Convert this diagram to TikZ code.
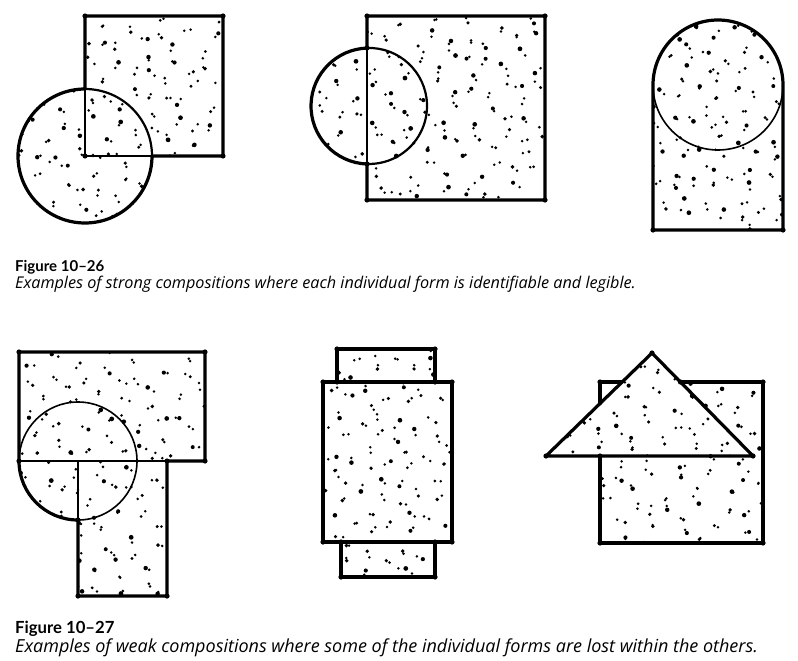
\documentclass[tikz,border=0pt]{standalone}
\usepackage{fontspec}
\setmainfont{Open Sans}
\newfontfamily\headfont{Lato}
\usetikzlibrary{positioning}

% stipple dots spread over a box (clip first); #6 shifts the pattern
\newcommand{\speckle}[6]{%
  \foreach \k in {1,...,#1}{%
    \pgfmathsetmacro{\px}{#2+mod(#6+\k*0.7548776662,1)*(#4-#2)}%
    \pgfmathsetmacro{\py}{#3+mod(#6+\k*0.5698402910,1)*(#5-#3)}%
    \pgfmathsetmacro{\qx}{\px+6*rand}%
    \pgfmathsetmacro{\qy}{\py+6*rand}%
    \pgfmathsetmacro{\pr}{1.4+1.0*rnd}%
    \fill (\px+3*rand,\py+3*rand) circle[radius=\pr pt];
    \fill (\qx,\qy) circle[radius=1.4pt];
  }}

\begin{document}
\begin{tikzpicture}[x=1pt,y=-1pt,
    outline/.style={line width=3.2pt, line join=round, line cap=round},
    inner/.style={line width=1.6pt, line cap=round},
    corner/.style={radius=2.6pt},
    figcap/.style={anchor=base west, inner sep=0pt, font=\headfont\fontsize{15}{18}\selectfont\bfseries},
    figtext/.style={anchor=base west, inner sep=0pt, font=\fontsize{16.2}{19}\selectfont\itshape}]
  \useasboundingbox (0,0) rectangle (798,661);
  \pgfmathsetseed{2610}

  % ---- 10-26 left: square and circle at its corner
  \begin{scope}
    \clip (85,89) -- (85,16) -- (223,16) -- (223,156) -- (152,156) arc[start angle=0, end angle=-270, radius=67pt] -- cycle;
    \speckle{105}{18}{16}{223}{223}{0.13}
  \end{scope}
  \draw[outline] (85,89) -- (85,16) -- (223,16) -- (223,156) -- (152,156) arc[start angle=0, end angle=-270, radius=67pt];
  \draw[inner] (85,89) -- (85,156) -- (152,156);
  \draw[line width=2.2pt] (152,156) arc[start angle=0, end angle=90, radius=67pt];

  % ---- 10-26 middle: square with circle on its edge
  \begin{scope}
    \clip (367,48) -- (367,16) -- (545,16) -- (545,200) -- (367,200) -- (367,164) arc[start angle=-92, end angle=-268, radius=58pt] -- cycle;
    \speckle{105}{311}{16}{545}{200}{0.41}
  \end{scope}
  \draw[outline] (367,48) -- (367,16) -- (545,16) -- (545,200) -- (367,200) -- (367,164) arc[start angle=-92, end angle=-268, radius=58pt];
  \draw[inner] (367,48) -- (367,164);
  \draw[line width=2.2pt] (367,48) arc[start angle=92, end angle=-92, radius=58pt];

  % ---- 10-26 right: arch
  \begin{scope}
    \clip (653,230) -- (653,85) arc[start angle=180, end angle=0, radius=65pt] -- (783,230) -- cycle;
    \speckle{72}{653}{20}{783}{230}{0.67}
  \end{scope}
  \draw[outline] (653,230) -- (653,85) arc[start angle=180, end angle=0, radius=65pt] -- (783,230) -- cycle;
  \draw[inner] (653,85) arc[start angle=180, end angle=360, radius=65pt];

  % ---- 10-27 left: rectangles and circle
  \begin{scope}
    \clip (19,461) -- (19,352) -- (205,352) -- (205,461) -- (167,461) -- (167,596) -- (78,596) -- (78,520) arc[start angle=-90, end angle=-180, radius=59pt] -- cycle;
    \speckle{110}{19}{352}{205}{596}{0.29}
  \end{scope}
  \draw[outline] (19,461) -- (19,352) -- (205,352) -- (205,461) -- (167,461) -- (167,596) -- (78,596) -- (78,520) arc[start angle=-90, end angle=-180, radius=59pt];
  \draw[inner] (19,461) -- (167,461) (78,461) -- (78,520);
  \draw[inner] (78,461) circle[radius=59pt];

  % ---- 10-27 middle: stacked rectangles
  \begin{scope}
    \clip (337,349) rectangle (435,382) (323,382) rectangle (452,542) (341,542) rectangle (435,577);
    \speckle{76}{323}{349}{452}{577}{0.83}
  \end{scope}
  \draw[outline] (337,349) rectangle (435,382) (323,382) rectangle (452,542) (341,542) rectangle (435,577);

  % ---- 10-27 right: triangle over rectangle
  \begin{scope}
    \clip (546,456) -- (600,403.5) -- (600,382) -- (622,382) -- (652,353) -- (680.4,382) -- (763,382) -- (763,543) -- (600,543) -- (600,456) -- cycle;
    \speckle{95}{546}{353}{763}{543}{0.55}
  \end{scope}
  \draw[outline] (546,456) -- (652,353) -- (753,456) -- cycle;
  \draw[outline] (600,403.5) -- (600,382) -- (622,382) (680.4,382) -- (763,382) -- (763,543) -- (600,543) -- (600,456);

  % corner blobs
  \foreach \p in {(85,16),(223,16),(223,156),(85,156),(367,16),(545,16),(545,200),(367,200),(367,48),(367,164),
      (653,230),(783,230),(19,352),(205,352),(205,461),(167,461),(167,596),(78,596),(19,461),(78,520),
      (337,349),(435,349),(323,382),(452,382),(323,542),(452,542),(341,577),(435,577),(337,382),(435,382),(341,542),(435,542),
      (652,353),(546,456),(753,456),(600,382),(763,382),(763,543),(600,543),(600,456),(680.4,382)}
    \fill \p circle[corner];

  % captions
  \node[figcap] (cap1) at (15,271) {Figure 10–26};
  \node[figtext] (note1) at (15,288) {Examples of strong compositions where each individual form is identifiable and legible.};
  \node[figcap, font=\headfont\fontsize{16.7}{20}\selectfont\bfseries] (cap2) at (15,633) {Figure 10–27};
  \node[figtext, font=\fontsize{18}{21}\selectfont\itshape] (note2) at (15,652) {Examples of weak compositions where some of the individual forms are lost within the others.};
\end{tikzpicture}
\end{document}
